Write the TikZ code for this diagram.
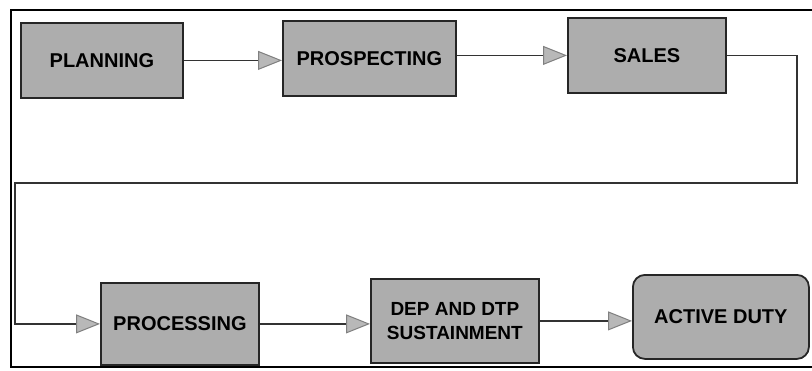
\documentclass[tikz,border=0pt]{standalone}
\usepackage{fontspec}
\newfontfamily\boxfont{Liberation Sans}
\usetikzlibrary{arrows.meta}
\begin{document}
\begin{tikzpicture}[x=1pt,y=-1pt,
  stage/.style={draw=black!85, line width=1.8pt,
    fill=black!32, anchor=north west, inner sep=0pt, align=center,
    font=\boxfont\bfseries\fontsize{20}{21}\selectfont},
  link/.style={draw=black!80, line width=1.6pt,
    -{Triangle[length=24pt,width=19pt,fill=black!28,color=black!50,line width=1pt]}},
  frame/.style={draw=black, line width=2pt}]
\useasboundingbox (0,0) rectangle (812,370);
\clip (0,0) rectangle (812,370);
% outer frame
\draw[frame] (11,10) rectangle (830,367);
% top row
\node[stage, minimum width=162pt, minimum height=75pt] (plan) at (20,22) {PLANNING};
\node[stage, minimum width=173pt, minimum height=75pt] (pros) at (282,20) {PROSPECTING};
\node[stage, minimum width=158pt, minimum height=75pt] (sales) at (567,17) {SALES};
% bottom row
\node[stage, minimum width=158pt, minimum height=82pt] (proc) at (100,282) {PROCESSING};
\node[stage, minimum width=168pt, minimum height=84pt, font=\boxfont\bfseries\fontsize{19}{24}\selectfont] (dep) at (370,278) {DEP AND DTP\\SUSTAINMENT};
\node[stage, rounded corners=12pt, minimum width=176pt, minimum height=84pt] (act) at (632,274) {ACTIVE DUTY};
% return path from the top row to the bottom row
\coordinate (r1) at (797,53);
\coordinate (r2) at (797,183);
\coordinate (r3) at (15,183);
% connectors
\draw[link] (plan.east) -- (plan.east -| pros.west);
\draw[link] (sales.west -| pros.east) -- (sales.west);
\draw[link] (sales.east) -- (sales.east -| r1) -- (r2) -- (r3) -- (r3 |- proc.west) -- (proc.west);
\draw[link] (proc.east) -- (proc.east -| dep.west);
\draw[link] (dep.east) -- (dep.east -| act.west);
\end{tikzpicture}
\end{document}
